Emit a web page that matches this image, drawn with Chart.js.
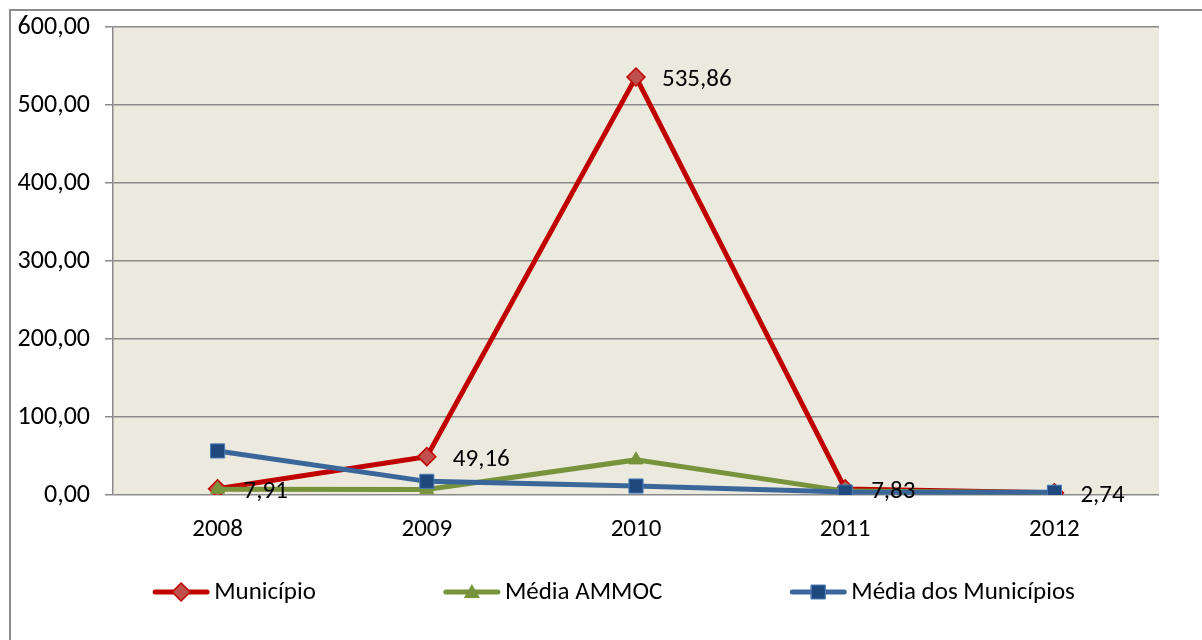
<!DOCTYPE html>
<html>
<head>
<meta charset="utf-8">
<script src="https://cdn.jsdelivr.net/npm/chart.js@4/dist/chart.umd.min.js"></script>
<style>
  html, body { margin: 0; padding: 0; background: #fff; overflow: hidden; }
  #frame { position: absolute; left: 9px; top: 9px; width: 1300px; height: 700px; border: 2px solid #8c8c8c; }
  #wrap { position: absolute; left: 0; top: 0; width: 1202px; height: 640px; }
</style>
</head>
<body>
<div id="frame"></div>
<div id="wrap"><canvas id="chart" width="1202" height="640"></canvas></div>
<script>
'use strict';

var years = ['2008', '2009', '2010', '2011', '2012'];
var municipio = [7.91, 49.16, 535.86, 7.83, 2.74];
var mediaAmmoc = [7.3, 7.2, 45.0, 5.0, 3.0];
var mediaMunicipios = [56.5, 17.5, 11.5, 3.8, 3.5];
var seriesNames = ['Município', 'Média AMMOC', 'Média dos Municípios'];

var FONT = 'Carlito, Calibri, Lato, sans-serif';
var red = '#C00000', green = '#77933C', blue = '#3A6699';

function fmt(v) {
  return v.toFixed(2).replace('.', ',');
}

// plot area fill
var paneBg = {
  id: 'paneBg',
  beforeDraw: function(chart) {
    var a = chart.chartArea, ctx = chart.ctx;
    ctx.save();
    ctx.fillStyle = '#ECE9DF';
    ctx.fillRect(a.left, a.top, a.right - a.left, a.bottom - a.top);
    ctx.restore();
  }
};

// value labels for the first series only
var valueLabels = {
  id: 'valueLabels',
  afterDatasetsDraw: function(chart) {
    var ctx = chart.ctx;
    var meta = chart.getDatasetMeta(0);
    ctx.save();
    ctx.font = '25px ' + FONT;
    ctx.fillStyle = '#000';
    ctx.textAlign = 'left';
    ctx.textBaseline = 'middle';
    meta.data.forEach(function(pt, i) {
      ctx.fillText(fmt(municipio[i]), pt.x + 26, pt.y + 3);
    });
    ctx.restore();
  }
};

function drawMarker(ctx, kind, x, y) {
  ctx.save();
  ctx.beginPath();
  if (kind === 'diamond') {
    ctx.moveTo(x, y - 9); ctx.lineTo(x + 9, y); ctx.lineTo(x, y + 9); ctx.lineTo(x - 9, y);
    ctx.closePath();
    ctx.fillStyle = '#C0504D'; ctx.strokeStyle = red; ctx.lineWidth = 1.5;
    ctx.fill(); ctx.stroke();
  } else if (kind === 'triangle') {
    ctx.moveTo(x, y - 8); ctx.lineTo(x + 8, y + 6); ctx.lineTo(x - 8, y + 6);
    ctx.closePath();
    ctx.fillStyle = green; ctx.fill();
  } else {
    ctx.rect(x - 7, y - 7, 14, 14);
    ctx.fillStyle = '#1F497D'; ctx.strokeStyle = '#4A7EBB'; ctx.lineWidth = 1;
    ctx.fill(); ctx.stroke();
  }
  ctx.restore();
}

// legend at bottom: line + marker, then name
var lineLegend = {
  id: 'lineLegend',
  afterDraw: function(chart) {
    var ctx = chart.ctx;
    var colors = [red, green, blue];
    var kinds = ['diamond', 'triangle', 'square'];
    var lineLen = 56, textGap = 5, itemGap = 128, y = 592;
    ctx.save();
    ctx.font = '25px ' + FONT;
    var widths = seriesNames.map(function(n) { return ctx.measureText(n).width; });
    var total = 0;
    widths.forEach(function(w, i) { total += lineLen + textGap + w + (i ? itemGap : 0); });
    var x = 614 - total / 2;
    for (var i = 0; i < seriesNames.length; i++) {
      ctx.strokeStyle = colors[i];
      ctx.lineWidth = 5;
      ctx.lineCap = 'round';
      ctx.beginPath();
      ctx.moveTo(x + 2, y);
      ctx.lineTo(x + lineLen - 2, y);
      ctx.stroke();
      drawMarker(ctx, kinds[i], x + lineLen / 2, y);
      ctx.fillStyle = '#000';
      ctx.textAlign = 'left';
      ctx.textBaseline = 'middle';
      ctx.fillText(seriesNames[i], x + lineLen + textGap, y + 1);
      x += lineLen + textGap + widths[i] + itemGap;
    }
    ctx.restore();
  }
};

var ctx = document.getElementById('chart').getContext('2d');

new Chart(ctx, {
  type: 'line',
  data: {
    labels: years,
    datasets: [{
      label: seriesNames[0],
      data: municipio,
      borderColor: red,
      borderWidth: 5,
      pointStyle: 'rectRot',
      pointRadius: 9,
      pointBackgroundColor: '#C0504D',
      pointBorderColor: red,
      pointBorderWidth: 1.5,
      order: 2
    }, {
      label: seriesNames[1],
      data: mediaAmmoc,
      borderColor: green,
      borderWidth: 5,
      pointStyle: 'triangle',
      pointRadius: 8,
      pointBackgroundColor: green,
      pointBorderColor: green,
      pointBorderWidth: 1,
      order: 1
    }, {
      label: seriesNames[2],
      data: mediaMunicipios,
      borderColor: blue,
      borderWidth: 5,
      pointStyle: 'rect',
      pointRadius: 10,
      pointBackgroundColor: '#1F497D',
      pointBorderColor: '#4A7EBB',
      pointBorderWidth: 1,
      order: 0
    }]
  },
  options: {
    responsive: false,
    animation: false,
    layout: { padding: { left: 0, right: 43, top: 27, bottom: 90 } },
    plugins: {
      legend: { display: false },
      tooltip: { enabled: false }
    },
    scales: {
      x: {
        offset: true,
        grid: { display: false, drawTicks: false },
        border: { display: false },
        ticks: { color: '#000', font: { family: FONT, size: 25 }, padding: 20, maxRotation: 0 },
        afterFit: function(scale) { scale.height = 55; }
      },
      y: {
        min: 0,
        max: 600,
        ticks: {
          stepSize: 100,
          color: '#000',
          font: { family: FONT, size: 26 },
          padding: 15,
          callback: function(v) { return fmt(v); }
        },
        grid: { color: '#8a8a8a', lineWidth: 1.5, tickLength: 8, drawTicks: true },
        border: { display: true, color: '#8a8a8a', width: 1.5 },
        afterFit: function(scale) {
          scale.width = 113;
          scale.paddingTop = 0;
          scale.paddingBottom = 0;
        }
      }
    }
  },
  plugins: [paneBg, valueLabels, lineLegend]
});
</script>
</body>
</html>
